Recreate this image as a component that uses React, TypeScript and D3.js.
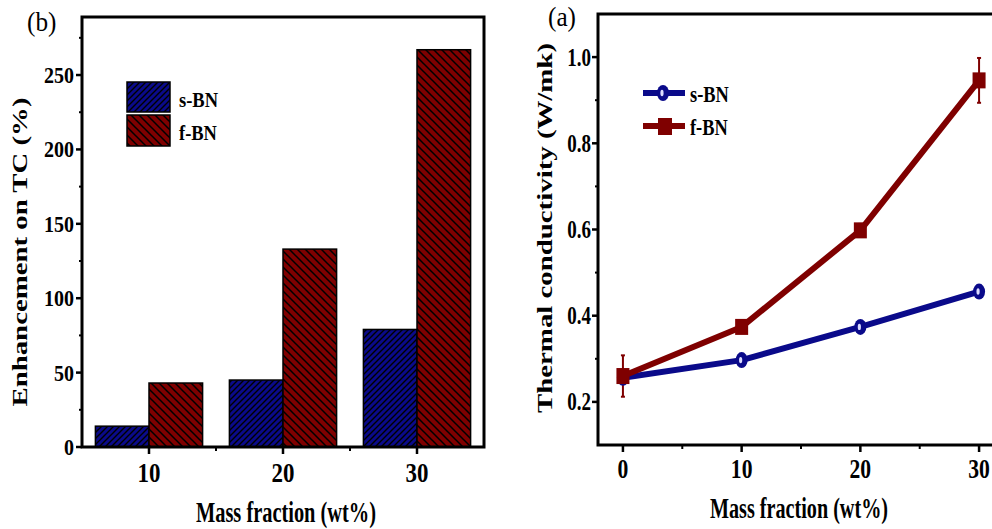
import React from "react";
import * as d3 from "d3";

const barCats = [10, 20, 30];
const sBNEnh = [14, 45, 79];
const fBNEnh = [43, 133, 267];
const enhTicks = [0, 50, 100, 150, 200, 250];

const tcX = [0, 10, 20, 30];
const sBNTC = [0.256, 0.297, 0.374, 0.456];
const fBNTC = [0.26, 0.374, 0.598, 0.946];
const sBNErr = [0.006, 0.006, 0.008, 0.01];
const fBNErr = [0.048, 0.006, 0.015, 0.052];
const tcTicks = [0.2, 0.4, 0.6, 0.8, 1.0];

const BLUE = "#0a0a8a";
const RED = "#7f0000";
const FONT = "'Liberation Serif', 'Times New Roman', serif";

function T({ x, y, sx = 0.8, size, anchor = "start", weight = "bold", children }: any) {
  return (
    <text
      transform={`translate(${x},${y}) scale(${sx},1)`}
      fontFamily={FONT}
      fontSize={size}
      fontWeight={weight}
      textAnchor={anchor}
      fill="#000"
    >
      {children}
    </text>
  );
}

export default function App() {
  // Left panel scales
  const xL = d3.scaleLinear().domain([5, 35]).range([82, 484]);
  const yL = d3.scaleLinear().domain([0, 289]).range([447, 17]);
  const bw = xL(14) - xL(10);
  const minorL = d3.range(25, 289, 50);
  const xMinorL = [15, 25];

  // Right panel scales
  const xR = d3.scaleLinear().domain([-2.1, 32.1]).range([598, 1004]);
  const yR = d3.scaleLinear().domain([0.1, 1.1]).range([445, 14]);
  const minorR = [0.3, 0.5, 0.7, 0.9];
  const xMinorR = [5, 15, 25];

  const line = d3
    .line<number>()
    .x((_, i) => xR(tcX[i]))
    .y((d) => yR(d));

  const circ = (cx: number, cy: number, k: string) => (
    <g key={k}>
      <ellipse cx={cx} cy={cy} rx={6} ry={8} fill={BLUE} />
      <ellipse cx={cx - 1} cy={cy} rx={1.6} ry={3.2} fill="#dcdcff" />
    </g>
  );

  return (
    <svg width={992} height={529} style={{ position: "absolute", left: 0, top: 0, background: "#fff" }}>
      <defs>
        <pattern id="hatchBlue" patternUnits="userSpaceOnUse" width={6} height={6}>
          <rect width={6} height={6} fill={BLUE} />
          <path d="M-1,1 l2,-2 M0,6 l6,-6 M5,7 l2,-2" stroke="#000" strokeWidth={1.4} />
        </pattern>
        <pattern id="hatchRed" patternUnits="userSpaceOnUse" width={8} height={8}>
          <rect width={8} height={8} fill={RED} />
          <path d="M-1,7 l2,2 M0,0 l8,8 M7,-1 l2,2" stroke="#000" strokeWidth={1.5} />
        </pattern>
      </defs>

      {/* ===== Left panel (b) ===== */}
      <T x={27} y={31} size={28} weight="normal" sx={0.9}>(b)</T>
      {barCats.map((c, i) => (
        <g key={c}>
          <rect
            x={xL(c) - bw}
            y={yL(sBNEnh[i])}
            width={bw}
            height={yL(0) - yL(sBNEnh[i])}
            fill="url(#hatchBlue)"
            stroke="#000"
            strokeWidth={1.5}
          />
          <rect
            x={xL(c)}
            y={yL(fBNEnh[i])}
            width={bw}
            height={yL(0) - yL(fBNEnh[i])}
            fill="url(#hatchRed)"
            stroke="#000"
            strokeWidth={1.5}
          />
        </g>
      ))}
      <rect x={82} y={17} width={402} height={430} fill="none" stroke="#000" strokeWidth={3} />
      {enhTicks.map((t) => (
        <g key={t}>
          <line x1={76} x2={82} y1={yL(t)} y2={yL(t)} stroke="#000" strokeWidth={2.5} />
          <T x={74} y={yL(t) + 8} size={23} anchor="end" sx={0.87}>{t}</T>
        </g>
      ))}
      {minorL.map((t) => (
        <line key={t} x1={79} x2={82} y1={yL(t)} y2={yL(t)} stroke="#000" strokeWidth={2} />
      ))}
      {barCats.map((c) => (
        <g key={c}>
          <line x1={xL(c)} x2={xL(c)} y1={447} y2={454} stroke="#000" strokeWidth={2.5} />
          <T x={xL(c)} y={482} size={27} anchor="middle" sx={0.85}>{c}</T>
        </g>
      ))}
      {xMinorL.map((c) => (
        <line key={c} x1={xL(c)} x2={xL(c)} y1={447} y2={451} stroke="#000" strokeWidth={2} />
      ))}
      <text
        transform="translate(27,252) rotate(-90)"
        fontFamily={FONT}
        fontSize={22}
        fontWeight="bold"
        textAnchor="middle"
        textLength={309}
        lengthAdjust="spacingAndGlyphs"
      >
        Enhancement on TC (%)
      </text>
      <text
        x={286}
        y={522}
        fontFamily={FONT}
        fontSize={29}
        fontWeight="bold"
        textAnchor="middle"
        textLength={180}
        lengthAdjust="spacingAndGlyphs"
      >
        Mass fraction (wt%)
      </text>

      {/* left legend */}
      <rect x={127} y={82} width={43} height={30} fill="url(#hatchBlue)" stroke="#000" strokeWidth={1.5} />
      <rect x={127} y={115} width={43} height={31} fill="url(#hatchRed)" stroke="#000" strokeWidth={1.5} />
      <T x={179} y={107} size={21} sx={0.88}>s-BN</T>
      <T x={179} y={140} size={21} sx={0.88}>f-BN</T>

      {/* ===== Right panel (a) ===== */}
      <T x={548} y={26} size={28} weight="normal" sx={0.9}>(a)</T>
      <rect x={598} y={14} width={406} height={431} fill="none" stroke="#000" strokeWidth={3} />
      {tcTicks.map((t) => (
        <g key={t}>
          <line x1={592} x2={598} y1={yR(t)} y2={yR(t)} stroke="#000" strokeWidth={2.5} />
          <T x={591} y={yR(t) + 8.5} size={25} anchor="end" sx={0.76}>{t.toFixed(1)}</T>
        </g>
      ))}
      {minorR.map((t) => (
        <line key={t} x1={595} x2={598} y1={yR(t)} y2={yR(t)} stroke="#000" strokeWidth={2} />
      ))}
      {tcX.map((c) => (
        <g key={c}>
          <line x1={xR(c)} x2={xR(c)} y1={445} y2={452} stroke="#000" strokeWidth={2.5} />
          <T x={xR(c)} y={478} size={27} anchor="middle" sx={0.8}>{c}</T>
        </g>
      ))}
      {xMinorR.map((c) => (
        <line key={c} x1={xR(c)} x2={xR(c)} y1={445} y2={449} stroke="#000" strokeWidth={2} />
      ))}
      <text
        transform="translate(552,228) rotate(-90)"
        fontFamily={FONT}
        fontSize={22}
        fontWeight="bold"
        textAnchor="middle"
        textLength={370}
        lengthAdjust="spacingAndGlyphs"
      >
        Thermal conductivity (W/mk)
      </text>
      <text
        x={799}
        y={518}
        fontFamily={FONT}
        fontSize={29}
        fontWeight="bold"
        textAnchor="middle"
        textLength={178}
        lengthAdjust="spacingAndGlyphs"
      >
        Mass fraction (wt%)
      </text>

      {/* lines */}
      <path d={line(sBNTC) || ""} fill="none" stroke={BLUE} strokeWidth={6} strokeLinejoin="round" />
      <path d={line(fBNTC) || ""} fill="none" stroke={RED} strokeWidth={6} strokeLinejoin="round" />

      {/* error bars */}
      {fBNTC.map((v, i) => (
        <g key={"fe" + i} stroke={RED} strokeWidth={2}>
          <line x1={xR(tcX[i])} x2={xR(tcX[i])} y1={yR(v + fBNErr[i])} y2={yR(v - fBNErr[i])} />
          <line x1={xR(tcX[i]) - 2} x2={xR(tcX[i]) + 2} y1={yR(v + fBNErr[i])} y2={yR(v + fBNErr[i])} />
          <line x1={xR(tcX[i]) - 2} x2={xR(tcX[i]) + 2} y1={yR(v - fBNErr[i])} y2={yR(v - fBNErr[i])} />
        </g>
      ))}
      {sBNTC.map((v, i) => (
        <g key={"se" + i} stroke={BLUE} strokeWidth={2}>
          <line x1={xR(tcX[i])} x2={xR(tcX[i])} y1={yR(v + sBNErr[i])} y2={yR(v - sBNErr[i])} />
        </g>
      ))}

      {/* markers */}
      {sBNTC.map((v, i) => circ(xR(tcX[i]), yR(v), "sm" + i))}
      {fBNTC.map((v, i) => (
        <rect key={"fm" + i} x={xR(tcX[i]) - 6.5} y={yR(v) - 8} width={13} height={16} fill={RED} />
      ))}

      {/* right legend */}
      <line x1={643} x2={685} y1={93} y2={93} stroke={BLUE} strokeWidth={6} />
      {circ(663, 93, "lc")}
      <line x1={643} x2={685} y1={126} y2={126} stroke={RED} strokeWidth={6} />
      <rect x={658} y={118} width={14} height={17} fill={RED} />
      <T x={690} y={102} size={23} sx={0.8}>s-BN</T>
      <T x={690} y={135} size={23} sx={0.8}>f-BN</T>
    </svg>
  );
}
